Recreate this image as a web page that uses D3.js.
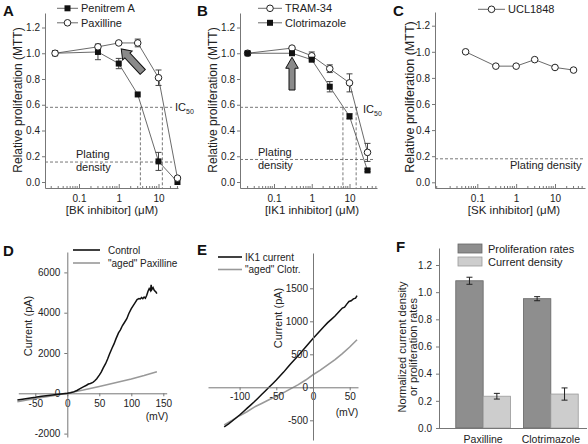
<!DOCTYPE html>
<html><head><meta charset="utf-8">
<script src="https://cdn.jsdelivr.net/npm/d3@7"></script>
<style>
body{margin:0;background:#fff;}
svg{display:block;font-family:"Liberation Sans",Arial,sans-serif;}
</style></head><body>
<svg id="chart" width="588" height="444"></svg>
<script>
// ---------- DATA ----------
const propTicks = [0, 0.2, 0.4, 0.6, 0.8, 1.0, 1.2];
const logTicks = [0.1, 1, 10];

// Panel A
const concA = [0.025, 0.3, 1, 3, 10, 30];
const penitremA = [1.0, 1.01, 0.92, 0.68, 0.16, 0.0];
const penitremAErr = [0, 0.06, 0.04, 0, 0.07, 0];
const paxilline = [1.0, 1.05, 1.08, 1.08, 0.81, 0.03];
const paxillineErr = [0, 0.02, 0.01, 0.03, 0.06, 0.01];
const ic50ConcA = [3.5, 12.5];
const ic50LevelA = 0.58;
const platingA = 0.155;

// Panel B
const concB = [0.02, 0.3, 1, 3, 10, 30];
const tram34 = [1.0, 1.04, 0.98, 0.88, 0.77, 0.23];
const tram34Err = [0, 0.01, 0.03, 0.03, 0.07, 0.07];
const clotrimazole = [1.0, 1.0, 0.95, 0.74, 0.51, 0.09];
const clotrimazoleErr = [0, 0.01, 0.01, 0.04, 0.02, 0.01];
const ic50ConcB = [6.7, 15];
const ic50LevelB = 0.58;
const platingB = 0.175;

// Panel C
const concC = [0.05, 0.3, 1, 3, 10, 30];
const ucl1848 = [1.0, 0.89, 0.89, 0.94, 0.88, 0.86];
const platingC = 0.18;

// Panel D (mV, pA)
const controlV = [-78,-70,-60,-50,-40,-30,-20,-10,0,5,10,15,20,25,30,33,36,40,43,46,50,53,56,60,63,66,70,73,76,80,83,86,90,93,96,100,103,106,109,112,114,116,118,120,122,124,126,128,130,131,132,134,136,138,140];
const controlI = [-330,-290,-240,-200,-150,-110,-70,-30,0,30,70,140,230,320,400,460,490,540,620,720,900,1050,1250,1480,1700,1950,2250,2450,2700,3000,3150,3350,3550,3700,3950,4200,4350,4500,4650,4700,4680,4750,4700,4780,4720,4850,5050,5200,5100,5380,5150,5250,5100,5050,4950];
const agedPaxV = [-78,-50,-25,0,25,50,75,100,120,140];
const agedPaxI = [-420,-260,-130,0,160,340,520,710,880,1070];
const ticksDx = [-50, 0, 50, 100, 150];
const ticksDy = [-2000, 0, 2000, 4000, 6000];

// Panel E (mV, pA)
const ik1V = [-121,-115,-110,-105,-100,-95,-90,-85,-80,-75,-70,-65,-60,-55,-50,-45,-40,-35,-30,-25,-20,-15,-10,-5,0,5,10,15,20,25,30,35,40,43,46,49,52,55,58,60];
const ik1I = [-600,-555,-510,-465,-420,-370,-320,-270,-220,-165,-110,-55,0,55,110,170,230,295,360,420,480,545,610,675,740,800,860,920,980,1030,1080,1140,1200,1215,1260,1300,1310,1340,1350,1390];
const agedClotV = [-121,-110,-100,-90,-80,-70,-60,-50,-40,-30,-20,-10,0,10,20,30,40,50,60];
const agedClotI = [-570,-500,-430,-370,-300,-245,-190,-135,-80,-20,40,110,190,260,340,420,510,610,720];
const ticksEx = [-100, -50, 0, 50];
const ticksEy = [-500, 0, 500, 1000, 1500];

// Panel F
const categoriesF = ["Paxilline", "Clotrimazole"];
const seriesF = ["Proliferation rates", "Current density"];
const prolifRates = [1.084, 0.952];
const prolifErr = [0.026, 0.015];
const currentDensity = [0.234, 0.25];
const currentErr = [0.021, 0.045];

// ---------- DRAWING ----------
const svg = d3.select("#chart");
const AX = "#777", TXT = "#222", LN = "#444";

function text(g, x, y, s, size, anchor, extra) {
  const t = g.append("text").attr("x", x).attr("y", y).attr("font-size", size)
    .attr("fill", TXT).attr("text-anchor", anchor || "start").text(s);
  if (extra) extra(t);
  return t;
}
function vtext(g, x, y, s, size) {
  return g.append("text").attr("transform", `translate(${x},${y}) rotate(-90)`)
    .attr("text-anchor", "middle").attr("font-size", size).attr("fill", TXT).text(s);
}
function styleAxis(sel, fs) {
  sel.attr("font-family", null).attr("font-size", fs);
  sel.select(".domain").attr("stroke", AX);
  sel.selectAll(".tick line").attr("stroke", AX);
  sel.selectAll(".tick text").attr("fill", TXT);
}
function marker(g, x, y, type) {
  if (type === "square") {
    g.append("rect").attr("x", x - 3).attr("y", y - 3).attr("width", 6).attr("height", 6).attr("fill", "#111");
  } else {
    g.append("circle").attr("cx", x).attr("cy", y).attr("r", 3.3).attr("fill", "#fff").attr("stroke", "#222").attr("stroke-width", 1);
  }
}
function blockArrow(g, tail, tip, w, h, hl) {
  const dx = tip[0] - tail[0], dy = tip[1] - tail[1];
  const L = Math.hypot(dx, dy), ang = Math.atan2(dy, dx) * 180 / Math.PI;
  const pts = [[0,-w],[L-hl,-w],[L-hl,-h],[L,0],[L-hl,h],[L-hl,w],[0,w]];
  g.append("polygon").attr("points", pts.map(p => p.join(",")).join(" "))
    .attr("transform", `translate(${tail[0]},${tail[1]}) rotate(${ang})`)
    .attr("fill", "#8a8a8a").attr("stroke", "#111").attr("stroke-width", 1);
}

function dosePanel(o) {
  const g = svg.append("g");
  const xb = d3.scaleLog().domain([0.1, 10]).range(o.decPx);
  const x = xb.copy().domain([xb.invert(o.axisX[0]), xb.invert(o.axisX[1])]).range(o.axisX);
  const yb = d3.scaleLinear().domain([0, 1.2]).range(o.yPx);
  const y = yb.copy().domain([yb.invert(o.axisY[0]), yb.invert(o.axisY[1])]).range(o.axisY);

  const dash = (x1, y1, x2, y2) => g.append("line").attr("x1", x1).attr("y1", y1).attr("x2", x2).attr("y2", y2)
    .attr("stroke", "#555").attr("stroke-width", 0.8).attr("stroke-dasharray", "3,2");
  if (o.ic50) {
    dash(o.axisX[0], y(o.ic50.level), x(o.ic50.end), y(o.ic50.level));
    o.ic50.conc.forEach(c => dash(x(c), y(o.ic50.level), x(c), o.axisY[0]));
  }
  dash(o.axisX[0], y(o.plating.level), x(o.plating.end), y(o.plating.level));

  const ya = g.append("g").attr("transform", `translate(${o.axisX[0]},0)`)
    .call(d3.axisLeft(y).tickValues(propTicks).tickFormat(d3.format(".1f")).tickSize(3).tickSizeOuter(0).tickPadding(2));
  styleAxis(ya, 10);
  const xa = g.append("g").attr("transform", `translate(0,${o.axisY[0]})`)
    .call(d3.axisBottom(x).tickValues(logTicks).tickFormat(d => String(d)).tickSize(-4).tickSizeOuter(0).tickPadding(7));
  styleAxis(xa, 10);
  const [d0, d1] = x.domain();
  for (let k = Math.floor(Math.log10(d0)); k <= Math.ceil(Math.log10(d1)); k++) {
    for (let m = 2; m <= 9; m++) {
      const v = m * Math.pow(10, k);
      if (v > d0 && v < d1) g.append("line").attr("x1", x(v)).attr("x2", x(v))
        .attr("y1", o.axisY[0]).attr("y2", o.axisY[0] - 2).attr("stroke", AX);
    }
  }

  o.series.forEach(s => {
    g.append("path").datum(o.conc.map((c, i) => [c, s.vals[i]]))
      .attr("d", d3.line().x(d => x(d[0])).y(d => y(d[1])))
      .attr("fill", "none").attr("stroke", LN).attr("stroke-width", 0.8);
  });
  o.series.forEach(s => {
    if (!s.err) return;
    o.conc.forEach((c, i) => {
      const e = s.err[i]; if (!e) return;
      const cx = x(c), y1 = y(s.vals[i] - e), y2 = y(s.vals[i] + e);
      g.append("line").attr("x1", cx).attr("x2", cx).attr("y1", y1).attr("y2", y2).attr("stroke", LN);
      [y1, y2].forEach(yy => g.append("line").attr("x1", cx - 3).attr("x2", cx + 3).attr("y1", yy).attr("y2", yy).attr("stroke", LN));
    });
  });
  o.series.forEach(s => o.conc.forEach((c, i) => marker(g, x(c), y(s.vals[i]), s.type)));

  o.series.forEach((s, i) => {
    const ly = o.legend.y + i * o.legend.dy;
    g.append("line").attr("x1", o.legend.x0).attr("x2", o.legend.x1).attr("y1", ly).attr("y2", ly).attr("stroke", LN).attr("stroke-width", 0.8);
    marker(g, (o.legend.x0 + o.legend.x1) / 2, ly, s.type);
    text(g, o.legend.x1 + 3, ly + 4, s.name, 11);
  });

  text(g, o.letter[0], o.letter[1], o.letter[2], 15, "start", t => t.attr("font-weight", "bold").attr("fill", "#111"));
  vtext(g, o.ylab[0], o.ylab[1], "Relative proliferation (MTT)", o.ylab[2] || 12);
  text(g, o.xlab[0], o.xlab[1], o.xlab[2], 11.5, "middle");
  if (o.ic50) {
    const t = text(g, o.ic50.label[0], o.ic50.label[1], "IC", 11);
    t.append("tspan").attr("font-size", 7).attr("dy", 3).text("50");
  }
  o.plating.lines.forEach((l, i) => text(g, o.plating.label[0], o.plating.label[1] + i * 13, l, 11));
  return {g, x, y};
}

// Panel A
const pA = dosePanel({
  decPx: [79, 158.5], axisX: [45, 178], yPx: [182, 27.5], axisY: [188, 13],
  conc: concA,
  series: [
    {name: "Penitrem A", vals: penitremA, err: penitremAErr, type: "square"},
    {name: "Paxilline", vals: paxilline, err: paxillineErr, type: "circle"}
  ],
  ic50: {level: ic50LevelA, conc: ic50ConcA, end: 22, label: [175, 111]},
  plating: {level: platingA, end: 22, label: [76, 158], lines: ["Plating", "density"]},
  legend: {x0: 57, x1: 78, y: 8.3, dy: 14.5},
  letter: [3, 16, "A"], ylab: [22, 100], xlab: [112, 214, "[BK inhibitor] (\u03BCM)"]
});
blockArrow(pA.g, [pA.x(1) + 24, pA.y(1.08) + 29], [pA.x(1) + 2.5, pA.y(1.08) + 6], 3.5, 6.5, 9);

// Panel B
const pB = dosePanel({
  decPx: [274, 349.5], axisX: [240, 377], yPx: [182, 27.5], axisY: [188, 13],
  conc: concB,
  series: [
    {name: "TRAM-34", vals: tram34, err: tram34Err, type: "circle"},
    {name: "Clotrimazole", vals: clotrimazole, err: clotrimazoleErr, type: "square"}
  ],
  ic50: {level: ic50LevelB, conc: ic50ConcB, end: 17, label: [363, 113]},
  plating: {level: platingB, end: 45, label: [258, 156], lines: ["Plating", "density"]},
  legend: {x0: 258, x1: 282, y: 8.3, dy: 14.5},
  letter: [197, 16, "B"], ylab: [217, 100], xlab: [312, 214, "[IK1 inhibitor] (\u03BCM)"]
});
blockArrow(pB.g, [pB.x(0.3), 90], [pB.x(0.3), pB.y(1.0) + 4], 3, 6.3, 11);

// Panel C
dosePanel({
  decPx: [477.3, 555], axisX: [435, 585], yPx: [182.3, 25.7], axisY: [188, 12],
  conc: concC,
  series: [{name: "UCL1848", vals: ucl1848, err: null, type: "circle"}],
  ic50: null,
  plating: {level: platingC, end: 58, label: [510, 169], lines: ["Plating density"]},
  legend: {x0: 478, x1: 505, y: 9.3, dy: 14.5},
  letter: [393, 16, "C"], ylab: [414, 97, 12.5], xlab: [514, 214, "[SK inhibitor] (\u03BCM)"]
});

// Panel D
(function () {
  const g = svg.append("g");
  const x = d3.scaleLinear().domain([0, 50]).range([67.3, 99.3]);
  const y = d3.scaleLinear().domain([0, 2000]).range([393.3, 353]);
  const xA = x.copy().domain([x.invert(18.3), x.invert(166.7)]).range([18.3, 166.7]);
  const yA = y.copy().domain([y.invert(437), y.invert(252)]).range([437, 252]);
  const xa = g.append("g").attr("transform", `translate(0,${y(0)})`)
    .call(d3.axisBottom(xA).tickValues(ticksDx).tickFormat(d => String(d)).tickSize(3).tickSizeOuter(0).tickPadding(4));
  styleAxis(xa, 10);
  const ya = g.append("g").attr("transform", `translate(${x(0)},0)`)
    .call(d3.axisLeft(yA).tickValues(ticksDy).tickFormat(d => String(d)).tickSize(3).tickSizeOuter(0).tickPadding(4));
  styleAxis(ya, 10);
  const line = d3.line().x(d => x(d[0])).y(d => y(d[1]));
  g.append("path").datum(agedPaxV.map((v, i) => [v, agedPaxI[i]])).attr("d", line)
    .attr("fill", "none").attr("stroke", "#999").attr("stroke-width", 1.6);
  g.append("path").datum(controlV.map((v, i) => [v, controlI[i]])).attr("d", line)
    .attr("fill", "none").attr("stroke", "#111").attr("stroke-width", 1.5);
  text(g, 157, 420, "(mV)", 10.5, "middle");
  vtext(g, 32, 326, "Current (pA)", 11);
  const lg = [["Control", "#111"], ["\"aged\" Paxilline", "#999"]];
  lg.forEach((d, i) => {
    const ly = 250 + i * 13;
    g.append("line").attr("x1", 73).attr("x2", 100).attr("y1", ly).attr("y2", ly).attr("stroke", d[1]).attr("stroke-width", 1.6);
    text(g, 108, ly + 3.5, d[0], 10);
  });
  text(g, 3, 256, "D", 15, "start", t => t.attr("font-weight", "bold").attr("fill", "#111"));
})();

// Panel E
(function () {
  const g = svg.append("g");
  const x = d3.scaleLinear().domain([0, 50]).range([313, 349.7]);
  const y = d3.scaleLinear().domain([0, 500]).range([387.3, 354.3]);
  const xA = x.copy().domain([x.invert(208), x.invert(358)]).range([208, 358]);
  const yA = y.copy().domain([y.invert(440), y.invert(253)]).range([440, 253]);
  const line = d3.line().x(d => x(d[0])).y(d => y(d[1]));
  g.append("path").datum(agedClotV.map((v, i) => [v, agedClotI[i]])).attr("d", line)
    .attr("fill", "none").attr("stroke", "#999").attr("stroke-width", 1.6);
  g.append("path").datum(ik1V.map((v, i) => [v, ik1I[i]])).attr("d", line)
    .attr("fill", "none").attr("stroke", "#111").attr("stroke-width", 1.5);
  const xa = g.append("g").attr("transform", `translate(0,${y(0)})`)
    .call(d3.axisBottom(xA).tickValues(ticksEx).tickFormat(d => String(d)).tickSize(3).tickSizeOuter(0).tickPadding(3));
  styleAxis(xa, 10);
  const ya = g.append("g").attr("transform", `translate(${x(0)},0)`)
    .call(d3.axisLeft(yA).tickValues(ticksEy).tickFormat(d => String(d)).tickSize(3).tickSizeOuter(0).tickPadding(2));
  styleAxis(ya, 10);
  text(g, 347, 416, "(mV)", 10.5, "middle");
  vtext(g, 282, 318, "Current (pA)", 11);
  const lg = [["IK1 current", "#111"], ["\"aged\" Clotr.", "#999"]];
  lg.forEach((d, i) => {
    const ly = 257 + i * 12.5;
    g.append("line").attr("x1", 218).attr("x2", 242).attr("y1", ly).attr("y2", ly).attr("stroke", d[1]).attr("stroke-width", 1.6);
    text(g, 245, ly + 3.5, d[0], 10);
  });
  text(g, 197, 255, "E", 15, "start", t => t.attr("font-weight", "bold").attr("fill", "#111"));
})();

// Panel F
(function () {
  const g = svg.append("g");
  const yb = d3.scaleLinear().domain([0, 1.2]).range([428, 265]);
  const y = yb.copy().domain([0, yb.invert(248)]).range([428, 248]);
  const x0 = d3.scaleBand().domain(categoriesF).range([449, 585]).paddingInner(0.19).paddingOuter(0.1);
  const x1 = d3.scaleBand().domain(seriesF).range([0, x0.bandwidth()]);
  const fills = ["#8e8e8e", "#cdcdcd"], strokes = ["#666", "#9a9a9a"];
  const vals = [prolifRates, currentDensity], errs = [prolifErr, currentErr];
  categoriesF.forEach((c, ci) => {
    seriesF.forEach((s, si) => {
      const v = vals[si][ci];
      g.append("rect").attr("x", x0(c) + x1(s)).attr("y", y(v)).attr("width", x1.bandwidth()).attr("height", y(0) - y(v))
        .attr("fill", fills[si]).attr("stroke", strokes[si]).attr("stroke-width", 0.8);
    });
  });
  categoriesF.forEach((c, ci) => {
    seriesF.forEach((s, si) => {
      const v = vals[si][ci], e = errs[si][ci];
      const cx = x0(c) + x1(s) + x1.bandwidth() / 2;
      g.append("line").attr("x1", cx).attr("x2", cx).attr("y1", y(v - e)).attr("y2", y(v + e)).attr("stroke", "#222");
      [v - e, v + e].forEach(yy => g.append("line").attr("x1", cx - 3).attr("x2", cx + 3).attr("y1", y(yy)).attr("y2", y(yy)).attr("stroke", "#222"));
    });
  });
  const ya = g.append("g").attr("transform", "translate(439,0)")
    .call(d3.axisLeft(y).tickValues(propTicks).tickFormat(d3.format(".1f")).tickSize(3).tickSizeOuter(0).tickPadding(4));
  styleAxis(ya, 10);
  g.append("line").attr("x1", 439).attr("x2", 587).attr("y1", 428.5).attr("y2", 428.5).attr("stroke", AX);
  categoriesF.forEach(c => text(g, x0(c) + x0.bandwidth() / 2, 443, c, 10.5, "middle"));
  seriesF.forEach((s, i) => {
    const ly = 244 + i * 13;
    g.append("rect").attr("x", 458).attr("y", ly).attr("width", 24).attr("height", 9)
      .attr("fill", fills[i]).attr("stroke", strokes[i]).attr("stroke-width", 0.8);
    text(g, 488, ly + 8.5, s, 11);
  });
  vtext(g, 406, 347, "Normalized current density", 11);
  vtext(g, 417, 347, "or proliferation rates", 11);
  text(g, 396, 252, "F", 15, "start", t => t.attr("font-weight", "bold").attr("fill", "#111"));
})();
</script>
</body></html>
